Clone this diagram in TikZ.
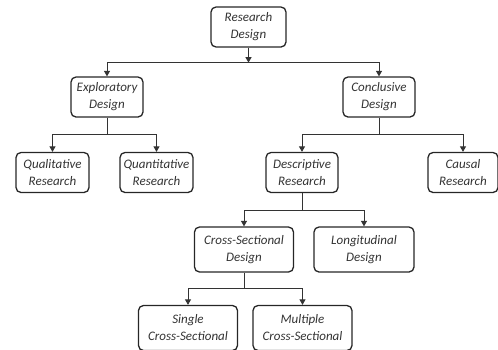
\documentclass[tikz,border=0pt]{standalone}
\usepackage{fontspec}
\setmainfont{Carlito}
\usetikzlibrary{positioning,arrows.meta}

\tikzset{
  stage/.style={draw=black!85, line width=1.3pt, rounded corners=5pt, align=center,
    inner sep=0pt, minimum width=#1, minimum height=40pt, text=black!80,
    font=\fontsize{13}{17}\selectfont\itshape},
  stage/.default=72pt,
  tall/.style={minimum height=45pt},
  stem/.style={draw=black!80, line width=1pt},
  link/.style={stem, -{Triangle[length=5.5pt,width=6pt]}},
}

\begin{document}
\begin{tikzpicture}[on grid]
\useasboundingbox (0,0) rectangle (498pt,-349pt);
\node[stage=75pt]		(research)	at (248.5pt,-27pt)					{Research\\Design};
\node[stage]			(explore)	[below left=70pt and 141.5pt of research]	{Exploratory\\Design};
\node[stage]			(conclude)	[below right=70pt and 130.5pt of research]	{Conclusive\\Design};
\node[stage=73pt]		(quali)		[below left=75.5pt and 54.5pt of explore]	{Qualitative\\Research};
\node[stage=73pt]		(quanti)	[below right=75.5pt and 49.5pt of explore]	{Quantitative\\Research};
\node[stage]			(descript)	[below left=75.5pt and 77pt of conclude]	{Descriptive\\Research};
\node[stage=70pt]		(causal)	[below right=75.5pt and 84pt of conclude]	{Causal\\Research};
\node[stage=99pt, tall]	(cross)		[below left=77pt and 58pt of descript]		{Cross-Sectional\\Design};
\node[stage=100pt, tall]	(longi)		[below right=77pt and 62pt of descript]		{Longitudinal\\Design};
\node[stage=99pt, tall]	(single)	[below left=78.5pt and 56pt of cross]		{Single\\Cross-Sectional};
\node[stage=99pt, tall]	(multi)		[below right=78.5pt and 58.5pt of cross]	{Multiple\\Cross-Sectional};

% branch points under each parent
\coordinate[below=15pt of research.south]	(j-research);
\coordinate[below=17pt of explore.south]	(j-explore);
\coordinate[below=17pt of conclude.south]	(j-conclude);
\coordinate[below=17pt of descript.south]	(j-descript);
\coordinate[below=16pt of cross.south]		(j-cross);

\draw[link] (research) -- (j-research);
\draw[link] (j-research) -| (explore);
\draw[link] (j-research) -| (conclude);
\draw[stem] (explore) -- (j-explore);
\draw[link] (j-explore) -| (quali);
\draw[link] (j-explore) -| (quanti);
\draw[stem] (conclude) -- (j-conclude);
\draw[link] (j-conclude) -| (descript);
\draw[link] (j-conclude) -| (causal);
\draw[stem] (descript) -- (j-descript);
\draw[link] (j-descript) -| (cross);
\draw[link] (j-descript) -| (longi);
\draw[stem] (cross) -- (j-cross);
\draw[link] (j-cross) -| (single);
\draw[link] (j-cross) -| (multi);
\end{tikzpicture}
\end{document}
